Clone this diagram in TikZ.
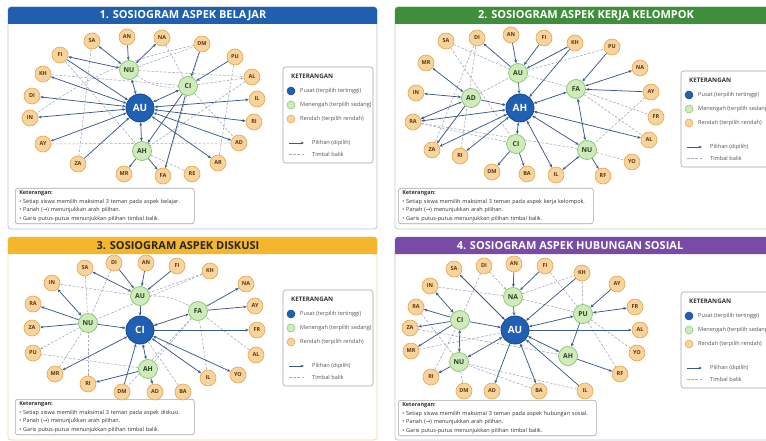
\documentclass[tikz,border=0pt]{standalone}
\usepackage{fontspec}
\setmainfont{Open Sans}
\newfontfamily\symfont{DejaVu Sans}
\usetikzlibrary{arrows.meta}
\definecolor{hubc}{HTML}{1F5FB4}
\definecolor{hubd}{HTML}{174A8C}
\definecolor{midc}{HTML}{CFEBBB}
\definecolor{midd}{HTML}{86C46C}
\definecolor{midt}{HTML}{27451F}
\definecolor{lowc}{HTML}{F8D49C}
\definecolor{lowd}{HTML}{E2A550}
\definecolor{lowt}{HTML}{5A3815}
\definecolor{solidc}{HTML}{3C5A88}
\definecolor{dashc}{HTML}{A5AEBD}
\definecolor{hblue}{HTML}{1F5FAE}
\definecolor{hgreen}{HTML}{3F8E3C}
\definecolor{hyellow}{HTML}{F4B62C}
\definecolor{hpurple}{HTML}{7A4BA6}
\definecolor{bblue}{HTML}{B3C7DF}
\definecolor{bgreen}{HTML}{B8D8B0}
\definecolor{byellow}{HTML}{F0DDA0}
\definecolor{bpurple}{HTML}{CCC2DC}
\definecolor{legtc}{HTML}{555555}
\definecolor{notet}{HTML}{333333}
\pgfdeclarelayer{bg}
\pgfdeclarelayer{edges}
\pgfsetlayers{bg,edges,main}
\tikzset{
  lowN/.style={circle, draw=lowd, fill=lowc, line width=0.6pt, minimum size=16pt, inner sep=0pt,
    font=\fontsize{5.5}{6}\selectfont\bfseries, text=lowt},
  midN/.style={circle, draw=midd, fill=midc, line width=0.7pt, minimum size=19pt, inner sep=0pt,
    font=\fontsize{6.8}{7}\selectfont\bfseries, text=midt},
  hubN/.style={circle, draw=hubd, fill=hubc, line width=0.8pt, minimum size=28pt, inner sep=0pt,
    font=\fontsize{10}{11}\selectfont\bfseries, text=white},
  pk/.style={draw=solidc, line width=0.75pt, -{Stealth[length=3.4pt,width=2.8pt]}},
  bi/.style={draw=solidc, line width=0.75pt, {Stealth[length=3.4pt,width=2.8pt]}-{Stealth[length=3.4pt,width=2.8pt]}},
  tb/.style={draw=dashc, line width=0.6pt, dash pattern=on 2.6pt off 1.6pt},
  tba/.style={tb, -{Stealth[length=3pt,width=2.5pt]}},
  legframe/.style={draw=black!35, line width=0.6pt, fill=white, rounded corners=2.5pt},
  legtitle/.style={anchor=west, inner sep=0pt, font=\fontsize{6.2}{7}\selectfont\bfseries, text=black!80},
  legtxt/.style={anchor=west, inner sep=0pt, font=\fontsize{5.6}{6}\selectfont, text=legtc},
  legdot/.style={circle, minimum size=8pt, inner sep=0pt, line width=0.5pt},
  ttl/.style={inner sep=0pt, font=\fontsize{11}{13}\selectfont\bfseries},
  notebox/.style={draw=black!35, line width=0.6pt, fill=white, rounded corners=2.5pt, anchor=north west,
    align=left, inner xsep=4pt, inner ysep=2.2pt, font=\fontsize{5.5}{8.6}\selectfont, text=notet},
}
\newcommand\mypanel[6]{%
  \begin{pgfonlayer}{bg}
  \draw[draw=#6, line width=0.8pt, fill=white, rounded corners=3pt] (#1,#2) rectangle (#3,#4);
  \fill[#5] (#1,#2+17) {[rounded corners=3pt] -- (#1,#2) -- (#3,#2)} -- (#3,#2+17) -- cycle;
  \end{pgfonlayer}}
\newcommand\mylegend[3]{%
  \begin{pgfonlayer}{bg}
  \draw[legframe] (#1,#2) rectangle ++(90,96);
  \end{pgfonlayer}
  \node[legtitle] (#3kt) at (#1+8,#2+9) {KETERANGAN};
  \node[legdot, fill=hubc, draw=hubd] (#3d1) at (#1+8,#2+24) {};
  \node[legtxt] (#3l1) at (#1+17,#2+24) {Pusat (terpilih tertinggi)};
  \node[legdot, fill=midc, draw=midd] (#3d2) at (#1+8,#2+38) {};
  \node[legtxt] (#3l2) at (#1+17,#2+38) {Menengah (terpilih sedang)};
  \node[legdot, fill=lowc, draw=lowd] (#3d3) at (#1+8,#2+52) {};
  \node[legtxt] (#3l3) at (#1+17,#2+52) {Rendah (terpilih rendah)};
  \coordinate (#3a0) at (#1+6,#2+76);
  \coordinate (#3a1) at (#1+21,#2+76);
  \draw[pk] (#3a0) -- (#3a1);
  \node[legtxt] (#3l4) at (#1+29,#2+76) {Pilihan (dipilih)};
  \coordinate (#3b0) at (#1+6,#2+87);
  \coordinate (#3b1) at (#1+21,#2+87);
  \draw[tb] (#3b0) -- (#3b1);
  \node[legtxt] (#3l5) at (#1+29,#2+87) {Timbal balik};}
\newcommand\mynote[4]{%
  \node[notebox, text width=#3] (#4) at (#1,#2) {\textbf{Keterangan:}\\
  • Setiap siswa memilih maksimal 3 teman pada aspek \aspek.\\
  • Panah ({\symfont →}) menunjukkan arah pilihan.\\
  • Garis putus-putus menunjukkan pilihan timbal balik.};}
\begin{document}
\begin{tikzpicture}[x=1pt,y=-1pt]
\useasboundingbox (0,0) rectangle (766,441);
\begin{pgfonlayer}{bg}
\fill[white] (0,0) rectangle (766,441);
\end{pgfonlayer}
% ---------- panels ----------
\mypanel{8}{7}{377}{229}{hblue}{bblue}
\mypanel{395}{7}{780}{229}{hgreen}{bgreen}
\mypanel{8}{237}{377}{440}{hyellow}{byellow}
\mypanel{395}{237}{780}{440}{hpurple}{bpurple}
\node[ttl, text=white] (t1) at (183,15.5) {1. SOSIOGRAM ASPEK BELAJAR};
\node[ttl, text=white] (t2) at (586,15.5) {2. SOSIOGRAM ASPEK KERJA KELOMPOK};
\node[ttl, text=black!85] (t3) at (178,245.5) {3. SOSIOGRAM ASPEK DISKUSI};
\node[ttl, text=white] (t4) at (570,245.5) {4. SOSIOGRAM ASPEK HUBUNGAN SOSIAL};
\mylegend{283}{67}{la}
\mylegend{681}{71}{lb}
\mylegend{283}{290}{lc}
\mylegend{681}{292}{ld}
\def\aspek{belajar}\mynote{15}{188}{171pt}{na}
\def\aspek{kerja kelompok}\mynote{398}{188}{187pt}{nb}
\def\aspek{diskusi}\mynote{15}{399}{171pt}{nc}
\def\aspek{hubungan sosial}\mynote{398}{400}{190pt}{nd}
% ---------- panel 1 ----------
\node[hubN] (aAU) at (140,108) {AU};
\foreach \n/\x/\y in {NU/129/70, CI/188/86, AH/142/151}
  \node[midN] (a\n) at (\x,\y) {\n};
\foreach \n/\x/\y in {SA/92/41, AN/127/37, NA/162/38, DM/202/44, PU/235/57, AL/252/77, IL/257/99,
  RI/254/122, AD/239/143, AR/218/163, RE/192/174, FA/163/176, MR/124/174, ZA/78/164, AY/43/144,
  IN/30/118, DI/32/96, KH/43/74, FI/60/55}
  \node[lowN] (a\n) at (\x,\y) {\n};
\begin{pgfonlayer}{edges}
\foreach \a/\b in {SA/ZA, FI/AH, NU/DM, NU/AL, NA/CI, DM/FA, CI/AD, AL/AH, AY/AD, AH/RE, PU/AR, KH/CI}
  \draw[tb] (a\a) -- (a\b);
\draw[tb] (aDM) to[bend right=12] (aIN);
\draw[tb] (aNU) to[bend right=20] (aCI);
\draw[tba] (aCI) -- (aAL);
\foreach \a/\b in {SA/NU, FI/NU, NA/NU, NU/AU, KH/AU, DI/AU, IN/AU, AY/AU, AH/AU, CI/AU, IL/AU, RI/AU, AD/AU, AR/AU}
  \draw[bi] (a\a) -- (a\b);
\foreach \a/\b in {AN/NU, ZA/AU, FI/AU, DM/CI, PU/CI, CI/AH, AH/MR, AH/FA, CI/FA}
  \draw[pk] (a\a) -- (a\b);
\end{pgfonlayer}
% ---------- panel 2 ----------
\node[hubN] (bAH) at (520,108) {AH};
\foreach \n/\x/\y in {AU/518/73, AD/471/98, FA/576/89, CI/516/144, NU/587/150}
  \node[midN] (b\n) at (\x,\y) {\n};
\foreach \n/\x/\y in {SA/446/41, DI/477/38, AN/511/35, FI/544/38, KH/575/43, PU/612/47, NA/640/68,
  AY/651/92, FR/656/117, AL/649/140, YO/632/162, RF/603/176, IL/556/175, BA/527/174, DM/492/172,
  RI/460/156, ZA/432/150, RA/413/122, IN/416/93, MR/426/63}
  \node[lowN] (b\n) at (\x,\y) {\n};
\begin{pgfonlayer}{edges}
\foreach \a/\b in {SA/AU, SA/CI, DI/ZA, AU/PU, AU/FA, FA/FR, FA/AL, AY/NU, RA/CI, RA/NU, NU/YO, AD/AU, DI/RI}
  \draw[tb] (b\a) -- (b\b);
\draw[tba] (bAU) -- (bKH);
\foreach \a/\b in {NA/FA, FA/AH, FA/NU, AL/AH, NU/AH, IL/NU, IL/AH, CI/AH, RI/AH, ZA/AH, RA/AD, MR/AD, IN/AD, RA/AH}
  \draw[bi] (b\a) -- (b\b);
\foreach \a/\b in {AN/AU, FI/AU, AU/DI, AU/AH, KH/AH, PU/FA, AY/FA, AD/AH, CI/BA, CI/DM, NU/RF, AD/ZA, KH/AU}
  \draw[pk] (b\a) -- (b\b);
\end{pgfonlayer}
% ---------- panel 3 ----------
\node[hubN] (cCI) at (140,330) {CI};
\foreach \n/\x/\y in {AU/140/296, NU/88/323, FA/198/311, AH/148/369}
  \node[midN] (c\n) at (\x,\y) {\n};
\foreach \n/\x/\y in {SA/85/268, DI/114/263, AN/146/263, FI/177/266, KH/210/271, NA/246/284, AY/255/306,
  FR/257/330, AL/256/355, YO/238/375, IL/208/378, BA/183/392, AD/155/392, DM/122/392, RI/88/384,
  MR/55/374, PU/33/353, ZA/32/328, RA/33/304, IN/52/283}
  \node[lowN] (c\n) at (\x,\y) {\n};
\begin{pgfonlayer}{edges}
\foreach \a/\b in {IN/AU, KH/AU, KH/NU, DI/NU, RI/NU, AL/FA, FA/DM, BA/CI, AH/FA, MR/NU, AH/PU, SA/NU, IL/FA}
  \draw[tb] (c\a) -- (c\b);
\draw[tb] (cAU) to[bend left=15] (cFA);
\draw[tba] (cNU) -- (cPU);
\foreach \a/\b in {SA/AU, IN/NU, MR/CI, AH/CI, IL/CI, YO/CI, FA/CI}
  \draw[bi] (c\a) -- (c\b);
\foreach \a/\b in {DI/AU, AN/AU, FI/AU, AU/CI, NU/RA, NU/ZA, NU/CI, DM/CI, AH/RI, AH/AD, CI/FR, FA/NA, FA/AY}
  \draw[pk] (c\a) -- (c\b);
\end{pgfonlayer}
% ---------- panel 4 ----------
\node[hubN] (dAU) at (515,330) {AU};
\foreach \n/\x/\y in {NA/513/297, CI/460/320, PU/583/314, NU/459/362, AH/568/356}
  \node[midN] (d\n) at (\x,\y) {\n};
\foreach \n/\x/\y in {SA/454/269, DI/484/266, AN/514/264, FI/545/266, KH/582/273, AY/617/284, FR/635/307,
  AL/640/330, YO/637/353, RF/620/374, IL/585/391, BA/539/391, AD/492/391, DM/464/391, RI/431/377,
  MR/411/351, ZA/410/328, RA/416/307, IN/430/286}
  \node[lowN] (d\n) at (\x,\y) {\n};
\begin{pgfonlayer}{edges}
\foreach \a/\b in {NA/KH, NA/PU, IN/NA, KH/PU, PU/YO, PU/RF, MR/AU, RA/NU, DM/NU, BA/NU, IL/NU, RI/CI, FI/PU, DI/CI, ZA/AH}
  \draw[tb] (d\a) -- (d\b);
\draw[tba] (dDI) -- (dNA);
\foreach \a/\b in {SA/AU, IN/CI, NU/AU, BA/AU, AH/AU, PU/AU, FR/PU, CI/NU}
  \draw[bi] (d\a) -- (d\b);
\foreach \a/\b in {AN/NA, FI/NA, NA/AU, CI/RA, CI/ZA, CI/AU, CI/MR, NU/RI, AU/AD, AH/RF, AY/PU, AU/AL, KH/AU, PU/AH, IL/AU}
  \draw[pk] (d\a) -- (d\b);
\end{pgfonlayer}
\end{tikzpicture}
\end{document}
